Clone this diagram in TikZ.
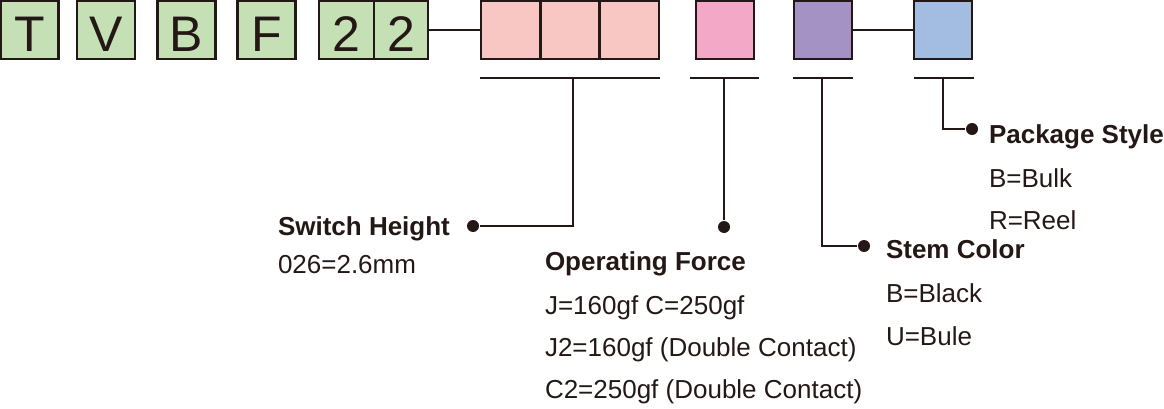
\documentclass[tikz,border=0pt]{standalone}
\usepackage{fontspec}
\setmainfont{Liberation Sans}
\usepackage{tikz}

\definecolor{tinta}{HTML}{231815}
\definecolor{verde}{HTML}{C5E0B4}
\definecolor{rosaclaro}{HTML}{F8C7C4}
\definecolor{rosa}{HTML}{F4A8C8}
\definecolor{roxo}{HTML}{A592C5}
\definecolor{azul}{HTML}{A2BCE2}

\begin{document}
\begin{tikzpicture}[x=1pt, y=-1pt, line width=2pt, draw=tinta, text=tinta,
    caixa/.style={draw=tinta, line width=2.5pt, minimum width=58pt, minimum height=58pt,
        inner sep=0pt, text height=44pt, text depth=0pt, font=\fontsize{50}{50}\selectfont},
    ponto/.style={circle, fill=tinta, draw=none, minimum size=12pt, inner sep=0pt},
    titulo/.style={anchor=base west, inner sep=0pt, font=\fontsize{26}{26}\selectfont\bfseries},
    opcao/.style={anchor=base west, inner sep=0pt, font=\fontsize{26}{26}\selectfont}]
    \useasboundingbox (0,0) rectangle (1164,409);

    % Posicionar as caixas do codigo
    \node[caixa, fill=verde] (t) at (29.5, 30) {T};
    \node[caixa, fill=verde] (v) at (106, 30) {V};
    \node[caixa, fill=verde] (b) at (186.5, 30) {B};
    \node[caixa, fill=verde] (f) at (266.5, 30) {F};
    \node[caixa, fill=verde, minimum width=55pt] (d1) at (346.5, 30) {2};
    \node[caixa, fill=verde, minimum width=54pt] (d2) at (401, 30) {2};
    \node[caixa, fill=rosaclaro, minimum width=59.3pt] (h1) at (510.7, 30) {};
    \node[caixa, fill=rosaclaro, minimum width=59.3pt] (h2) at (570, 30) {};
    \node[caixa, fill=rosaclaro, minimum width=59.3pt] (h3) at (629.3, 30) {};
    \node[caixa, fill=rosa] (fo) at (725, 30) {};
    \node[caixa, fill=roxo] (cor) at (823, 30) {};
    \node[caixa, fill=azul] (emb) at (943, 30) {};

    % Ligacoes entre caixas
    \draw (d2.east) -- (h1.west);
    \draw (cor.east) -- (emb.west);

    % Barras sob as caixas
    \coordinate (bar1a) at (480, 78);  \coordinate (bar1b) at (660, 78);  \coordinate (bar1m) at (573, 78);
    \coordinate (bar2a) at (690, 78);  \coordinate (bar2b) at (759, 78);  \coordinate (bar2m) at (724, 78);
    \coordinate (bar3a) at (793, 78);  \coordinate (bar3b) at (853, 78);  \coordinate (bar3m) at (822, 78);
    \coordinate (bar4a) at (914, 78);  \coordinate (bar4b) at (974, 78);  \coordinate (bar4m) at (943, 78);
    \draw (bar1a) -- (bar1b);
    \draw (bar2a) -- (bar2b);
    \draw (bar3a) -- (bar3b);
    \draw (bar4a) -- (bar4b);

    % Pontos
    \node[ponto] (p1) at (473, 226) {};
    \node[ponto] (p2) at (724, 227) {};
    \node[ponto] (p3) at (864, 246) {};
    \node[ponto] (p4) at (972, 129) {};

    % Hastes
    \draw (bar1m) |- (p1);
    \draw (bar2m) -- (p2);
    \draw (bar3m) |- (p3);
    \draw (bar4m) |- (p4);

    % Textos
    \node[titulo] (altura) at (277, 235) {Switch Height};
    \node[opcao] (altura1) at (277, 273) {026=2.6mm};

    \node[titulo] (forca) at (544, 270) {Operating Force};
    \node[opcao] (forca1) at (544, 314) {J=160gf C=250gf};
    \node[opcao] (forca2) at (544, 356) {J2=160gf (Double Contact)};
    \node[opcao] (forca3) at (544, 398) {C2=250gf (Double Contact)};

    \node[titulo] (haste) at (885, 258) {Stem Color};
    \node[opcao] (haste1) at (885, 302) {B=Black};
    \node[opcao] (haste2) at (885, 345) {U=Bule};

    \node[titulo] (pacote) at (988, 143) {Package Style};
    \node[opcao] (pacote1) at (988, 187) {B=Bulk};
    \node[opcao] (pacote2) at (988, 229) {R=Reel};
\end{tikzpicture}
\end{document}
